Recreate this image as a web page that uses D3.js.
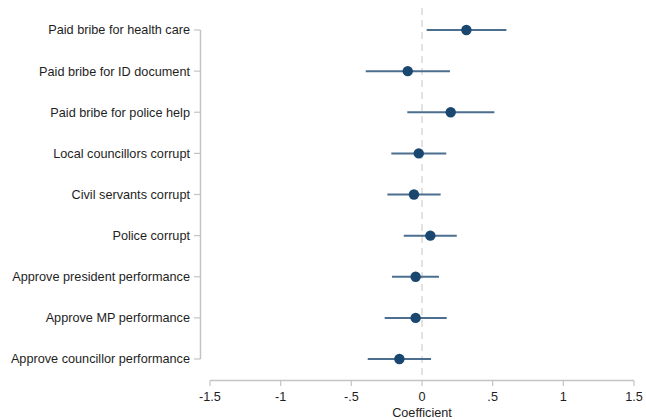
<!DOCTYPE html>
<html><head><meta charset="utf-8">
<script src="https://cdn.jsdelivr.net/npm/d3@7"></script>
<style>
body{margin:0;background:#fff;}
svg{display:block;font-family:"Liberation Sans",Arial,sans-serif;}
</style></head>
<body><svg id="c" width="646" height="420"></svg>
<script>
const categories = ["Paid bribe for health care","Paid bribe for ID document","Paid bribe for police help","Local councillors corrupt","Civil servants corrupt","Police corrupt","Approve president performance","Approve MP performance","Approve councillor performance"];
const coef  = [0.314,-0.101,0.203,-0.023,-0.057,0.059,-0.045,-0.045,-0.160];
const lower = [0.033,-0.398,-0.104,-0.217,-0.245,-0.129,-0.212,-0.264,-0.384];
const upper = [0.597,0.198,0.512,0.172,0.132,0.246,0.120,0.175,0.064];
const xTicks = [-1.5,-1,-0.5,0,0.5,1,1.5];
const xTickLabels = ["-1.5","-1","-.5","0",".5","1","1.5"];
const xTitle = "Coefficient";

const svg = d3.select("#c");
const x = d3.scaleLinear().domain([-1.5,1.5]).range([210,634]);
const y = d3.scalePoint().domain(categories).range([30,359]);
const axisCol = "#c4c4c4", textCol = "#1e1e1e";
const navy = "#1a476f";
const fs = 12.7;

// zero reference line
svg.append("line").attr("x1",x(0)).attr("x2",x(0)).attr("y1",8).attr("y2",380)
  .attr("stroke","#cfcfcf").attr("stroke-width",1.2).attr("stroke-dasharray","7,5");

// y axis
const ya = svg.append("g");
ya.append("line").attr("x1",200.5).attr("x2",200.5).attr("y1",y(categories[0])).attr("y2",y(categories[categories.length-1]))
  .attr("stroke",axisCol).attr("stroke-width",1.5);
categories.forEach(c=>{
  ya.append("line").attr("x1",194).attr("x2",200.5).attr("y1",y(c)).attr("y2",y(c)).attr("stroke",axisCol).attr("stroke-width",1.2);
  ya.append("text").attr("x",190).attr("y",y(c)).attr("dy","0.35em").attr("text-anchor","end")
    .attr("font-size",fs).attr("fill",textCol).text(c);
});

// x axis
const xa = svg.append("g");
xa.append("line").attr("x1",x(-1.5)).attr("x2",x(1.5)).attr("y1",380.5).attr("y2",380.5).attr("stroke",axisCol).attr("stroke-width",1.5);
xTicks.forEach((t,i)=>{
  xa.append("line").attr("x1",x(t)).attr("x2",x(t)).attr("y1",380.5).attr("y2",386).attr("stroke",axisCol).attr("stroke-width",1.2);
  xa.append("text").attr("x",x(t)).attr("y",397).attr("dy","0.35em").attr("text-anchor","middle")
    .attr("font-size",fs).attr("fill",textCol).text(xTickLabels[i]);
});
svg.append("text").attr("x",x(0)).attr("y",413).attr("dy","0.35em").attr("text-anchor","middle")
  .attr("font-size",fs).attr("fill",textCol).text(xTitle);

// CIs and points
const g = svg.append("g");
categories.forEach((c,i)=>{
  g.append("line").attr("x1",x(lower[i])).attr("x2",x(upper[i])).attr("y1",y(c)).attr("y2",y(c))
    .attr("stroke","#4c6e8f").attr("stroke-width",2);
  g.append("circle").attr("cx",x(coef[i])).attr("cy",y(c)).attr("r",5.2).attr("fill",navy);
});
</script></body></html>
